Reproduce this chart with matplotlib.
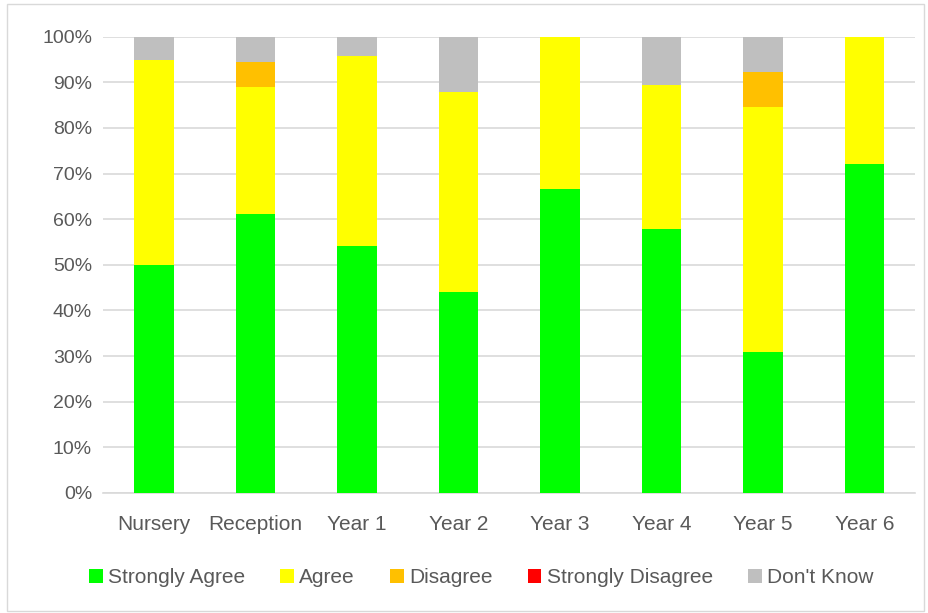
import matplotlib.pyplot as plt
import numpy as np
from matplotlib.patches import Rectangle

categories = ['Nursery', 'Reception', 'Year 1', 'Year 2', 'Year 3', 'Year 4', 'Year 5', 'Year 6']
strongly_agree = [50.0, 61.1, 54.2, 44.0, 66.7, 57.9, 30.8, 72.2]
agree = [45.0, 27.8, 41.6, 44.0, 33.3, 31.6, 53.8, 27.8]
disagree = [0.0, 5.6, 0.0, 0.0, 0.0, 0.0, 7.7, 0.0]
strongly_disagree = [0.0, 0.0, 0.0, 0.0, 0.0, 0.0, 0.0, 0.0]
dont_know = [5.0, 5.5, 4.2, 12.0, 0.0, 10.5, 7.7, 0.0]

series = [
    ('Strongly Agree', strongly_agree, '#00FF00'),
    ('Agree', agree, '#FFFF00'),
    ('Disagree', disagree, '#FFC000'),
    ('Strongly Disagree', strongly_disagree, '#FF0000'),
    ("Don't Know", dont_know, '#BFBFBF'),
]

plt.rcParams['font.family'] = ['Liberation Sans', 'DejaVu Sans']
text_col = '#595959'

fig = plt.figure(figsize=(9.29, 6.13), dpi=100)
ax = fig.add_axes([0.111, 0.196, 0.874, 0.744])

x = np.arange(len(categories))
bottom = np.zeros(len(categories))
for name, vals, col in series:
    vals = np.array(vals)
    ax.bar(x, vals, 0.39, bottom=bottom, color=col, label=name, zorder=3)
    bottom += vals

ax.set_ylim(0, 100)
ax.set_xlim(-0.5, len(categories) - 0.5)
ax.set_yticks(np.arange(0, 101, 10))
ax.set_yticklabels(['%d%%' % v for v in range(0, 101, 10)])
ax.set_xticks(x)
ax.set_xticklabels(categories)
ax.tick_params(axis='y', length=0, labelsize=14, colors=text_col, pad=8)
ax.tick_params(axis='x', length=0, labelsize=15, colors=text_col, pad=16)
ax.grid(axis='y', color='#D9D9D9', linewidth=1.2, zorder=0)
for s in ['top', 'right', 'left']:
    ax.spines[s].set_visible(False)
ax.spines['bottom'].set_color('#D9D9D9')
ax.spines['bottom'].set_linewidth(1.2)

leg = fig.legend(loc='center', bbox_to_anchor=(0.518, 0.058), ncol=5, frameon=False,
                 fontsize=15, handlelength=0.65, handleheight=0.65, handletextpad=0.25,
                 columnspacing=1.7)
for t in leg.get_texts():
    t.set_color(text_col)

fig.patches.append(Rectangle((0.008, 0.004), 0.987, 0.99, transform=fig.transFigure,
                             fill=False, edgecolor='#D9D9D9', linewidth=1))

fig.savefig('out.png', dpi=100)
